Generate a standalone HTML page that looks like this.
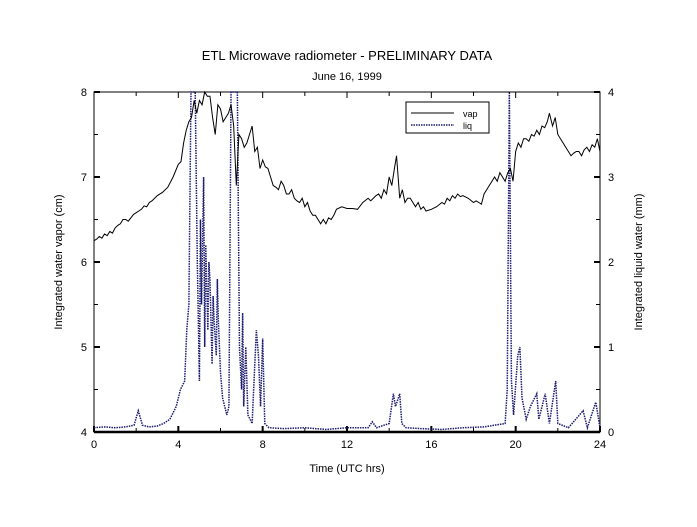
<!DOCTYPE html>
<html><head><meta charset="utf-8"><style>
body{margin:0;background:#fff;}
svg text{font-family:"Liberation Sans",sans-serif;fill:#000;}
</style></head><body>
<svg id="chart" width="697" height="522" viewBox="0 0 697 522" xmlns="http://www.w3.org/2000/svg">
<rect width="697" height="522" fill="#fff"/>
<text x="347" y="60" font-size="13" text-anchor="middle">ETL Microwave radiometer - PRELIMINARY DATA</text>
<text x="347" y="80" font-size="11" text-anchor="middle">June 16, 1999</text>
<text x="347" y="472" font-size="11" text-anchor="middle">Time (UTC hrs)</text>
<text transform="translate(62,262) rotate(-90)" font-size="11" text-anchor="middle">Integrated water vapor (cm)</text>
<text transform="translate(642,262) rotate(-90)" font-size="11" text-anchor="middle">Integrated liquid water (mm)</text>
<g id="axes"></g>
<g id="series"></g>
<g>
<rect x="406" y="102" width="83" height="31" fill="#fff" stroke="#000" stroke-width="1"/>
<line x1="411" y1="113" x2="454" y2="113" stroke="#000" stroke-width="1"/>
<text x="463" y="117" font-size="9">vap</text>
<line x1="411" y1="125" x2="454" y2="125" stroke="#1a1a6e" stroke-width="1.5" stroke-dasharray="1.5,1"/>
<text x="463" y="129" font-size="9">liq</text>
</g>
</svg>
<script>
const vapTimes=[0,0.125,0.25,0.375,0.5,0.625,0.75,0.875,1,1.125,1.25,1.375,1.5,1.625,1.75,1.875,2,2.125,2.25,2.375,2.5,2.625,2.75,3,3.25,3.5,3.75,4,4.125,4.25,4.375,4.5,4.625,4.75,4.875,5,5.125,5.25,5.375,5.5,5.625,5.75,5.875,6,6.125,6.25,6.375,6.5,6.625,6.75,6.875,7,7.125,7.25,7.375,7.5,7.625,7.75,7.875,8,8.125,8.25,8.375,8.5,8.625,8.75,8.875,9,9.125,9.25,9.375,9.5,9.625,9.75,9.875,10,10.125,10.25,10.375,10.5,10.625,10.75,10.875,11,11.125,11.25,11.375,11.5,11.75,12,12.25,12.5,12.75,13,13.125,13.25,13.375,13.5,13.625,13.75,13.875,14,14.125,14.25,14.35,14.5,14.625,14.75,14.875,15,15.125,15.25,15.375,15.5,15.625,15.75,16,16.25,16.5,16.625,16.75,16.875,17,17.125,17.25,17.375,17.5,17.75,18,18.125,18.25,18.375,18.5,18.75,19,19.125,19.25,19.375,19.5,19.625,19.75,19.875,20,20.125,20.25,20.375,20.5,20.625,20.75,20.875,21,21.125,21.25,21.375,21.5,21.6,21.75,21.875,22,22.125,22.25,22.375,22.5,22.625,22.75,22.875,23,23.125,23.25,23.375,23.5,23.625,23.75,23.875,24];
const vapValues=[6.25,6.27,6.3,6.28,6.33,6.31,6.36,6.34,6.4,6.43,6.45,6.5,6.5,6.48,6.52,6.56,6.58,6.6,6.62,6.66,6.65,6.7,6.72,6.78,6.82,6.88,7.0,7.15,7.18,7.4,7.55,7.65,7.7,7.9,7.75,7.9,7.85,8.0,7.95,7.95,7.7,7.5,7.85,7.8,7.65,7.7,7.75,7.85,7.6,6.9,7.5,7.45,7.35,7.4,7.5,7.6,7.3,7.35,7.1,7.2,7.12,7.1,7.0,6.9,6.88,6.85,6.95,6.9,6.8,6.8,6.85,6.75,6.72,6.7,6.75,6.65,6.7,6.6,6.55,6.55,6.5,6.45,6.5,6.45,6.52,6.5,6.55,6.62,6.65,6.63,6.63,6.62,6.7,6.75,6.72,6.75,6.78,6.8,6.75,6.85,6.8,7.0,6.9,7.1,7.25,6.75,6.85,6.7,6.75,6.75,6.7,6.65,6.7,6.62,6.65,6.6,6.62,6.65,6.7,6.68,6.75,6.72,6.78,6.75,6.8,6.77,6.78,6.75,6.7,6.72,6.7,6.68,6.8,6.9,7.0,6.95,7.05,7.0,6.95,7.05,7.1,6.95,7.3,7.4,7.35,7.45,7.45,7.42,7.5,7.48,7.55,7.5,7.6,7.58,7.65,7.75,7.6,7.7,7.5,7.45,7.4,7.35,7.3,7.25,7.28,7.3,7.3,7.25,7.32,7.35,7.3,7.38,7.35,7.45,7.3];
const liqTimes=[0,0.5,1,1.5,1.9,2.1,2.3,2.6,3.0,3.3,3.6,3.9,4.1,4.3,4.4,4.5,4.6,4.8,4.9,5.0,5.05,5.1,5.2,5.25,5.3,5.4,5.45,5.5,5.6,5.65,5.7,5.8,5.85,5.9,6.0,6.1,6.3,6.4,6.5,6.7,6.8,6.9,7.0,7.05,7.1,7.2,7.3,7.5,7.7,7.8,7.9,8.0,8.1,8.3,9,10,11,12,13,13.2,13.4,14.0,14.2,14.3,14.5,14.6,14.8,15.5,16.5,17.5,18.5,19.0,19.5,19.6,19.7,19.8,19.9,20.1,20.2,20.3,20.5,20.7,21.0,21.1,21.4,21.6,21.9,22.0,22.5,23.2,23.4,23.8,24];
const liqValues=[0.05,0.06,0.05,0.06,0.08,0.25,0.08,0.06,0.07,0.1,0.15,0.3,0.5,0.6,1.2,1.5,4,4,2,0.6,2.5,1.5,3,1.0,2.2,1.2,2.0,1.8,0.8,1.6,1.3,0.9,1.8,1.3,0.7,0.4,0.2,0.3,4,4,4,1.0,0.5,1.4,0.3,1.0,0.2,0.1,1.2,0.9,0.3,1.1,0.1,0.05,0.04,0.05,0.03,0.05,0.05,0.12,0.05,0.1,0.45,0.3,0.45,0.1,0.05,0.04,0.03,0.05,0.06,0.08,0.1,0.5,4,0.6,0.2,0.9,1.0,0.4,0.15,0.3,0.45,0.15,0.45,0.1,0.6,0.1,0.05,0.25,0.05,0.35,0.05];
const xTicks=[0,4,8,12,16,20,24];
const yLeftTicks=[4,5,6,7,8];
const yRightTicks=[0,1,2,3,4];

const L=94,R=600,T=92,B=432;
const xs=t=>L+(t/24)*(R-L);
const yV=v=>B-(v-4)/4*(B-T);
const yQ=v=>B-Math.min(v,4)/4*(B-T);
const NS="http://www.w3.org/2000/svg";
const axes=document.getElementById('axes'),series=document.getElementById('series');
function mk(tag,attrs,parent){const e=document.createElementNS(NS,tag);for(const k in attrs)e.setAttribute(k,attrs[k]);parent.appendChild(e);return e;}
const frame=mk('rect',{x:L,y:T,width:R-L,height:B-T,fill:'none',stroke:'#000','stroke-width':1},axes);


const base=mk('line',{x1:L,y1:B,x2:R,y2:B,stroke:'#000','stroke-width':2.5},axes);


for(let h=0;h<=24;h+=2){const major=h%4===0;const len=major?6:4;
 const t1=mk('line',{x1:xs(h),y1:B,x2:xs(h),y2:B-len,stroke:'#000','stroke-width':major?2:1},axes);
 
 
 const t2=mk('line',{x1:xs(h),y1:T,x2:xs(h),y2:T+len,stroke:'#000','stroke-width':1},axes);
 
 }
xTicks.forEach(h=>{const t=mk('text',{x:xs(h),y:B+16,'font-size':11,'text-anchor':'middle'},axes);t.textContent=h;
 
 });
for(let v=4;v<=8;v+=0.5){const major=v%1===0;const len=major?6:4;
 const a=mk('line',{x1:L,y1:yV(v),x2:L+len,y2:yV(v),stroke:'#000','stroke-width':major?2:1},axes);
 
 
 const b=mk('line',{x1:R,y1:yV(v),x2:R-len,y2:yV(v),stroke:'#000','stroke-width':major?2:1},axes);
 
 }
yLeftTicks.forEach(v=>{const t=mk('text',{x:L-7,y:yV(v)+4,'font-size':11,'text-anchor':'end'},axes);t.textContent=v;
 
 });
yRightTicks.forEach(v=>{const t=mk('text',{x:R+8,y:yQ(v)+4,'font-size':11,'text-anchor':'start'},axes);t.textContent=v;
 
 });
const liq=mk('polyline',{points:liqTimes.map((t,i)=>xs(t)+','+yQ(liqValues[i])).join(' '),fill:'none',stroke:'#1a1a6e','stroke-width':1.5,'stroke-dasharray':'1.5,1'},series);


const vap=mk('polyline',{points:vapTimes.map((t,i)=>xs(t)+','+yV(vapValues[i])).join(' '),fill:'none',stroke:'#000','stroke-width':1},series);


</script>
</body></html>
